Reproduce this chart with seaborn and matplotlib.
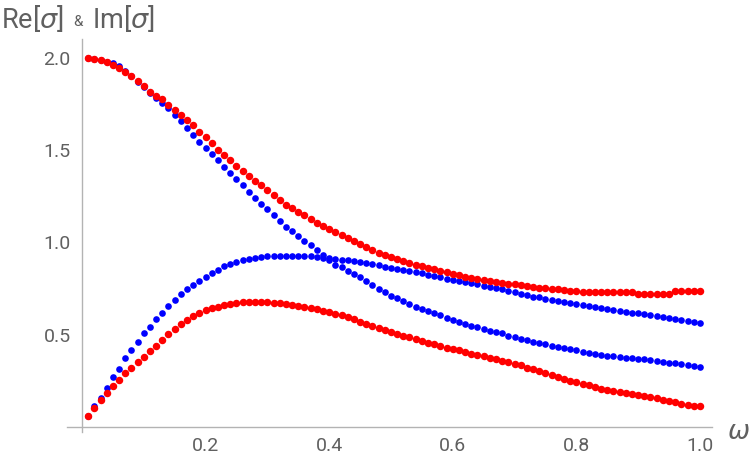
import numpy as np
import pandas as pd
import seaborn as sns
import matplotlib.pyplot as plt
from matplotlib.ticker import MultipleLocator, FixedLocator

# omega grid: 0.01 ... 1.00
omega = [round(0.01 * k, 2) for k in range(1, 101)]

blue_re = [2.0, 1.995, 1.99, 1.98, 1.97, 1.955, 1.93, 1.90, 1.87, 1.84,
           1.81, 1.78, 1.755, 1.727, 1.69, 1.658, 1.62, 1.58, 1.546, 1.51,
           1.478, 1.445, 1.41, 1.375, 1.342, 1.31, 1.275, 1.24, 1.209, 1.18,
           1.149, 1.115, 1.086, 1.06, 1.035, 1.01, 0.986, 0.959, 0.93, 0.905,
           0.88, 0.865, 0.845, 0.83, 0.81, 0.79, 0.77, 0.75, 0.73, 0.71,
           0.70, 0.685, 0.665, 0.652, 0.64, 0.627, 0.616, 0.605, 0.592, 0.58,
           0.57, 0.557, 0.547, 0.54, 0.53, 0.522, 0.515, 0.507, 0.495, 0.486,
           0.478, 0.47, 0.462, 0.455, 0.448, 0.44, 0.433, 0.426, 0.42, 0.415,
           0.408, 0.40, 0.395, 0.39, 0.387, 0.383, 0.38, 0.376, 0.372, 0.37,
           0.366, 0.362, 0.357, 0.352, 0.349, 0.345, 0.34, 0.336, 0.332, 0.327]

blue_im = [0.06, 0.114, 0.159, 0.213, 0.269, 0.316, 0.372, 0.417, 0.462, 0.507,
           0.544, 0.585, 0.62, 0.657, 0.688, 0.72, 0.745, 0.77, 0.793, 0.815,
           0.836, 0.853, 0.87, 0.883, 0.895, 0.905, 0.912, 0.918, 0.922, 0.925,
           0.927, 0.928, 0.928, 0.928, 0.928, 0.927, 0.925, 0.921, 0.917, 0.913,
           0.909, 0.905, 0.903, 0.90, 0.894, 0.888, 0.882, 0.875, 0.868, 0.862,
           0.856, 0.85, 0.845, 0.84, 0.833, 0.826, 0.818, 0.811, 0.804, 0.797,
           0.791, 0.785, 0.779, 0.772, 0.765, 0.758, 0.751, 0.745, 0.738, 0.73,
           0.722, 0.714, 0.706, 0.702, 0.696, 0.688, 0.681, 0.675, 0.67, 0.665,
           0.66, 0.654, 0.648, 0.643, 0.638, 0.633, 0.628, 0.624, 0.62, 0.615,
           0.61, 0.605, 0.60, 0.594, 0.589, 0.585, 0.58, 0.576, 0.57, 0.565]

red_re = [2.0, 1.995, 1.99, 1.975, 1.96, 1.945, 1.925, 1.90, 1.875, 1.85,
          1.817, 1.795, 1.775, 1.745, 1.72, 1.69, 1.665, 1.635, 1.60, 1.57,
          1.537, 1.50, 1.475, 1.445, 1.415, 1.385, 1.36, 1.335, 1.31, 1.285,
          1.255, 1.23, 1.205, 1.185, 1.165, 1.148, 1.128, 1.105, 1.087, 1.07,
          1.055, 1.04, 1.022, 1.005, 0.99, 0.975, 0.96, 0.945, 0.93, 0.92,
          0.91, 0.90, 0.89, 0.88, 0.87, 0.862, 0.855, 0.846, 0.838, 0.83,
          0.822, 0.815, 0.808, 0.80, 0.795, 0.79, 0.785, 0.78, 0.776, 0.772,
          0.77, 0.765, 0.76, 0.755, 0.752, 0.75, 0.748, 0.742, 0.737, 0.735,
          0.733, 0.733, 0.733, 0.733, 0.733, 0.733, 0.733, 0.733, 0.733, 0.722,
          0.722, 0.722, 0.722, 0.722, 0.722, 0.737, 0.737, 0.737, 0.737, 0.737]

red_im = [0.06, 0.10, 0.145, 0.183, 0.22, 0.257, 0.29, 0.32, 0.35, 0.38,
          0.41, 0.44, 0.47, 0.505, 0.53, 0.558, 0.58, 0.603, 0.62, 0.632,
          0.643, 0.652, 0.66, 0.667, 0.672, 0.675, 0.678, 0.679, 0.678, 0.676,
          0.673, 0.669, 0.665, 0.66, 0.656, 0.65, 0.644, 0.638, 0.63, 0.622,
          0.614, 0.605, 0.597, 0.585, 0.571, 0.56, 0.548, 0.537, 0.526, 0.515,
          0.504, 0.495, 0.487, 0.478, 0.468, 0.457, 0.447, 0.437, 0.428, 0.42,
          0.415, 0.407, 0.398, 0.39, 0.382, 0.373, 0.366, 0.358, 0.35, 0.342,
          0.333, 0.322, 0.312, 0.302, 0.292, 0.282, 0.27, 0.26, 0.25, 0.242,
          0.234, 0.225, 0.216, 0.208, 0.202, 0.197, 0.191, 0.185, 0.18, 0.175,
          0.168, 0.161, 0.155, 0.148, 0.141, 0.134, 0.127, 0.121, 0.116, 0.114]

blue = pd.DataFrame({"omega": omega * 2, "value": blue_re + blue_im})
red = pd.DataFrame({"omega": omega * 2, "value": red_re + red_im})

sns.set_style("white")
plt.rcParams["font.family"] = ["Roboto", "DejaVu Sans"]

axis_grey = "#b3b3b3"
text_grey = "#606060"

fig = plt.figure(figsize=(7.5, 4.63), dpi=100)
ax = fig.add_axes([0.0887, 0.0659, 0.861, 0.849])

sns.scatterplot(data=blue, x="omega", y="value", color="#0000ff", s=23,
                linewidth=0, ax=ax, zorder=3)
sns.scatterplot(data=red, x="omega", y="value", color="#ff0000", s=29,
                linewidth=0, ax=ax, zorder=4)

ax.set_xlim(-0.025, 1.02)
ax.set_ylim(-0.03, 2.1)
ax.set_xlabel("")
ax.set_ylabel("")

for side in ["top", "right"]:
    ax.spines[side].set_visible(False)
for side in ["left", "bottom"]:
    ax.spines[side].set_position(("data", 0))
    ax.spines[side].set_color(axis_grey)
    ax.spines[side].set_linewidth(1.0)
ax.spines["left"].set_bounds(-0.03, 2.1)

ax.xaxis.set_major_locator(FixedLocator([0.2, 0.4, 0.6, 0.8, 1.0]))
ax.xaxis.set_minor_locator(MultipleLocator(0.05))
ax.yaxis.set_major_locator(FixedLocator([0.5, 1.0, 1.5, 2.0]))
ax.yaxis.set_minor_locator(MultipleLocator(0.1))
ax.set_xticklabels(["0.2", "0.4", "0.6", "0.8", "1.0"])
ax.set_yticklabels(["0.5", "1.0", "1.5", "2.0"])

ax.tick_params(which="major", direction="in", length=5, width=0.8,
               color=axis_grey, labelcolor=text_grey, labelsize=14)
ax.tick_params(which="minor", direction="in", length=3, width=0.7,
               color=axis_grey)
ax.tick_params(axis="x", which="major", pad=7)
ax.tick_params(axis="y", which="major", pad=8)

# axis labels, Mathematica style
fig.text(1 / 750, 1 - 18 / 463, r"Re[$\sigma$]", fontsize=19.5, color=text_grey,
         va="center", ha="left")
fig.text(73 / 750, 1 - 22 / 463, "&", fontsize=11, color=text_grey,
         va="center", ha="left")
fig.text(92 / 750, 1 - 18 / 463, r"Im[$\sigma$]", fontsize=19.5, color=text_grey,
         va="center", ha="left")
fig.text(727 / 750, 1 - 432 / 463, r"$\omega$", fontsize=19, color=text_grey,
         va="center", ha="left")

fig.savefig("out.png", dpi=100)
